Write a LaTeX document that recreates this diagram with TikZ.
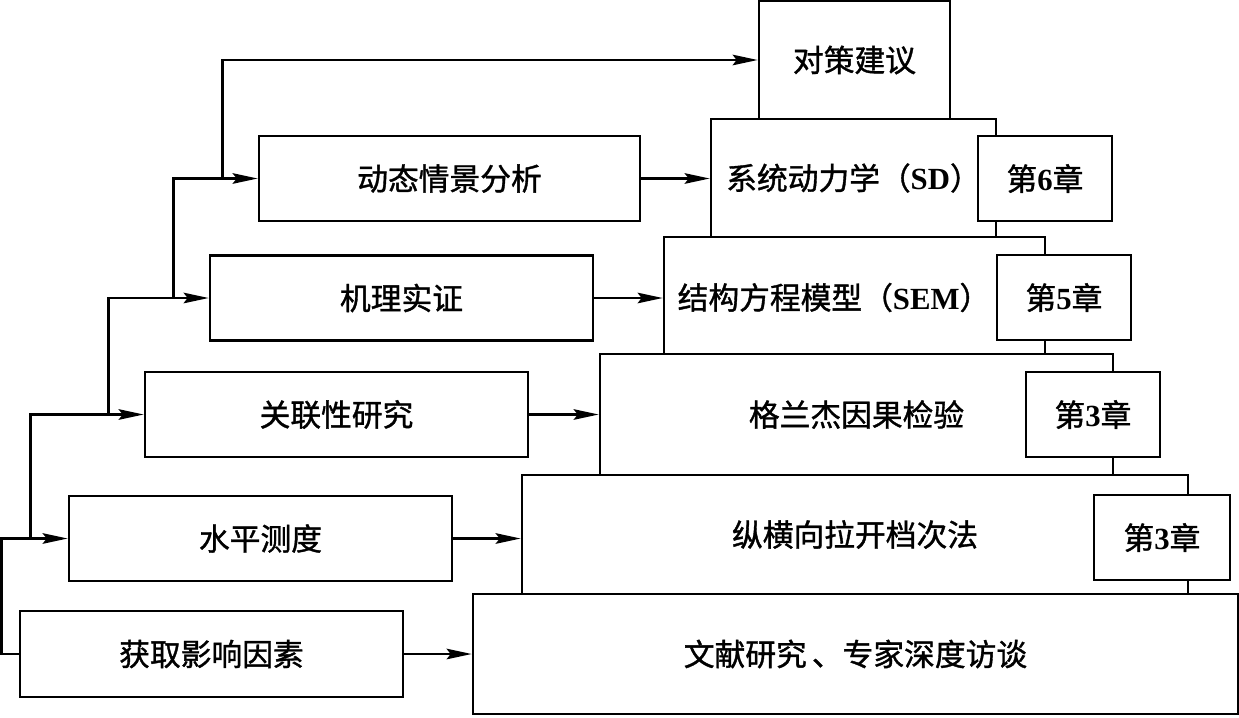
\documentclass[tikz,border=0pt]{standalone}
\usepackage{fontspec}
\setmainfont{Liberation Serif}
\newfontfamily\cjk{Noto Sans CJK SC}[FakeBold=1.2]
\usetikzlibrary{arrows.meta,calc}
\newcommand{\lat}[1]{{\rmfamily\bfseries #1}}

\begin{document}
\begin{tikzpicture}[x=0.02cm, y=-0.02cm,
    box/.style 2 args={draw, line width=1.5pt, inner sep=0pt, minimum width=#1*0.02cm, minimum height=#2*0.02cm, font=\cjk\fontsize{17.5}{20}\selectfont},
    chap/.style={box={134}{85}, fill=white},
    arr/.style={line width=1.5pt, -{Stealth[length=5mm,width=2.1mm,inset=0.8mm]}}]
    \useasboundingbox (0,0) rectangle (1239,717);

    % Methods (staircase)
    \node[box={191}{118}] (plan) at (854.5,60) {对策建议};
    \node[box={285}{118}] (sd) at (853.5,178) {系统动力学（\lat{SD}）};
    \node[box={381}{117}] (sem) at (854.5,295.5) {};
    \node[box={513}{121}] (gc) at (856.5,414.5) {格兰杰因果检验};
    \node[box={666}{119}] (tp) at (855,534.5) {纵横向拉开档次法};
    \node[box={765}{120}] (lit) at (855.5,654) {文献研究\,、专家深度访谈};
    \node[font=\cjk\fontsize{17.5}{20}\selectfont] (semtxt) at (834,297.5) {结构方程模型（\lat{SEM}）};

    % Chapters
    \node[chap] (ch6) at (1045,178.5) {第\lat{6}章};
    \node[chap] (ch5) at (1064,297.5) {第\lat{5}章};
    \node[chap] (ch3a) at (1093,414.5) {第\lat{3}章};
    \node[chap, minimum width=136*0.02cm] (ch3b) at (1162,537.5) {第\lat{3}章};

    % Research steps
    \node[box={381}{85}] (dyn) at (449.5,178.5) {动态情景分析};
    \node[box={383}{85}] (mech) at (401.5,298) {机理实证};
    \node[box={383}{85}] (rel) at (336.5,414.5) {关联性研究};
    \node[box={383}{85}] (lvl) at (260.5,538.5) {水平测度};
    \node[box={383}{86}] (get) at (211.5,654) {获取影响因素};

    % Step -> method
    \draw[arr] (dyn.east) -- (dyn.east -| sd.west);
    \draw[arr] (mech.east) -- (mech.east -| sem.west);
    \draw[arr] (rel.east) -- (rel.east -| gc.west);
    \draw[arr] (lvl.east) -- (lvl.east -| tp.west);
    \draw[arr] (get.east) -- (get.east -| lit.west);

    % Step -> next step
    \draw[arr] (get.west) -- ++(-17,0) |- (lvl.west);
    \draw[arr] ($(lvl.west)+(-37,0)$) |- (rel.west);
    \draw[arr] ($(rel.west)+(-35,0)$) |- (mech.west);
    \draw[arr] ($(mech.west)+(-35,0)$) |- (dyn.west);
    \draw[arr] ($(dyn.west)+(-35,0)$) |- (plan.west);
\end{tikzpicture}
\end{document}
